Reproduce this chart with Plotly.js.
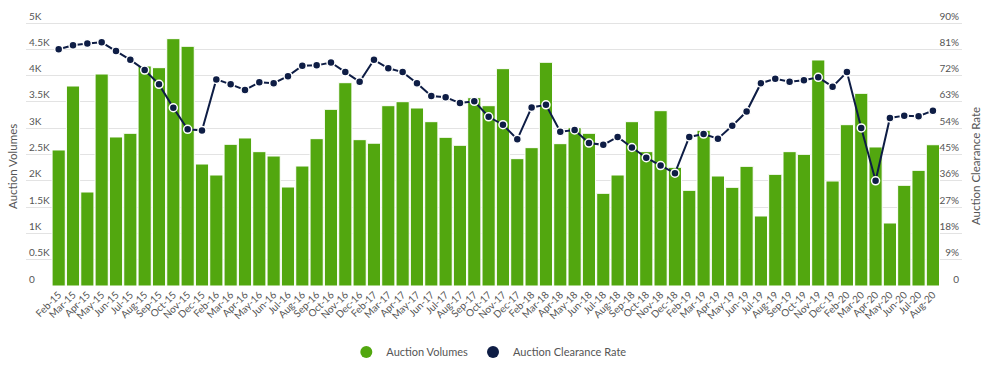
<!DOCTYPE html>
<html>
<head>
<meta charset="utf-8">
<script src="https://cdn.plot.ly/plotly-3.0.1.min.js"></script>
<style>
  html, body { margin: 0; padding: 0; background: #fff; }
  #chart { width: 989px; height: 368px; }
</style>
</head>
<body>
<div id="chart"></div>
<script>
const months = [
  "Feb-15","Mar-15","Apr-15","May-15","Jun-15","Jul-15","Aug-15","Sep-15","Oct-15","Nov-15","Dec-15",
  "Feb-16","Mar-16","Apr-16","May-16","Jun-16","Jul-16","Aug-16","Sep-16","Oct-16","Nov-16","Dec-16",
  "Feb-17","Mar-17","Apr-17","May-17","Jun-17","Jul-17","Aug-17","Sep-17","Oct-17","Nov-17","Dec-17",
  "Feb-18","Mar-18","Apr-18","May-18","Jun-18","Jul-18","Aug-18","Sep-18","Oct-18","Nov-18","Dec-18",
  "Feb-19","Mar-19","Apr-19","May-19","Jun-19","Jul-19","Aug-19","Sep-19","Oct-19","Nov-19","Dec-19",
  "Feb-20","Mar-20","Apr-20","May-20","Jun-20","Jul-20","Aug-20"
];

const auctionVolumes = [
  2586, 3802, 1787, 4030, 2833, 2903, 4183, 4151, 4702, 4557, 2319,
  2110, 2694, 2814, 2554, 2471, 1882, 2281, 2801, 3359, 3865, 2782,
  2715, 3428, 3504, 3384, 3124, 2827, 2675, 3580, 3428, 4132, 2421,
  2630, 4253, 2706, 3010, 2903, 1762, 2110, 3124, 2554, 3333, 2256,
  1819, 2960, 2091, 1876, 2275, 1331, 2123, 2554, 2503, 4297, 1996,
  3067, 3663, 2643, 1198, 1914, 2199, 2686
];

const clearanceRate = [
  81.0, 82.4, 83.0, 83.4, 80.4, 77.4, 73.9, 69.0, 61.0, 53.6, 53.2,
  70.7, 69.0, 67.1, 69.7, 69.4, 71.8, 75.4, 75.5, 76.5, 73.2, 69.9,
  77.4, 74.5, 73.2, 69.4, 65.0, 64.6, 62.6, 63.2, 57.9, 55.2, 50.2,
  61.1, 62.0, 52.8, 53.4, 48.9, 48.3, 51.0, 47.4, 43.9, 41.2, 38.6,
  51.0, 52.0, 50.4, 54.8, 59.7, 69.4, 70.9, 69.9, 70.4, 71.4, 68.2,
  73.2, 54.1, 36.0, 57.5, 58.3, 58.1, 60.0
];

const volumeTickVals = [0, 500, 1000, 1500, 2000, 2500, 3000, 3500, 4000, 4500, 5000];
const volumeTickText = ["0", "0.5K", "1K", "1.5K", "2K", "2.5K", "3K", "3.5K", "4K", "4.5K", "5K"];
const rateTickVals = [0, 9, 18, 27, 36, 45, 54, 63, 72, 81, 90];
const rateTickText = ["0", "9%", "18%", "27%", "36%", "45%", "54%", "63%", "72%", "81%", "90%"];

const GREEN = "#52a70f";
const NAVY = "#0e1d45";
const FONT = "Lato, 'Open Sans', sans-serif";

// plot area: x 26..962 px, y 5..286 px; gridline 5K / 90% sits at y=23
const TOP_PAD = 281 / 263;

const traces = [
  {
    type: "bar",
    name: "Auction Volumes",
    x: months,
    y: auctionVolumes,
    marker: { color: GREEN, line: { color: "#ffffff", width: 1 } },
    showlegend: false,
    yaxis: "y"
  },
  {
    type: "scatter",
    mode: "lines+markers",
    name: "Auction Clearance Rate",
    x: months,
    y: clearanceRate,
    line: { color: NAVY, width: 2 },
    marker: { color: NAVY, size: 8, line: { color: "#ffffff", width: 1.5 } },
    showlegend: false,
    yaxis: "y2"
  },
  {
    type: "scatter", mode: "markers", name: "Auction Volumes",
    x: [null], y: [null],
    marker: { color: GREEN, size: 12 }, showlegend: true, yaxis: "y"
  },
  {
    type: "scatter", mode: "markers", name: "Auction Clearance Rate",
    x: [null], y: [null],
    marker: { color: NAVY, size: 12 }, showlegend: true, yaxis: "y"
  }
];

const layout = {
  width: 989,
  height: 368,
  margin: { l: 26, r: 27, t: 5, b: 82, pad: 0, autoexpand: false },
  paper_bgcolor: "#ffffff",
  plot_bgcolor: "#ffffff",
  font: { family: FONT, color: "#555555", size: 10 },
  bargap: 0.08,
  showlegend: true,
  legend: {
    orientation: "h",
    x: 0.495, xanchor: "center",
    y: -0.235, yanchor: "middle",
    font: { family: FONT, size: 11, color: "#555555" },
    itemwidth: 30
  },
  xaxis: {
    type: "category",
    range: [-2.28, 63.03],
    automargin: false,
    tickangle: -45,
    tickfont: { family: FONT, size: 10, color: "#555555" },
    showgrid: false,
    zeroline: false,
    showline: false,
    ticks: "",
    fixedrange: true
  },
  yaxis: {
    range: [0, 5000 * TOP_PAD],
    automargin: false,
    tickvals: volumeTickVals,
    ticktext: volumeTickText,
    ticklabelposition: "inside top",
    tickfont: { family: FONT, size: 10, color: "#555555" },
    showgrid: true,
    gridcolor: "#e3e3e3",
    gridwidth: 1,
    zeroline: false,
    showline: false,
    ticks: ""
  },
  yaxis2: {
    overlaying: "y",
    side: "right",
    range: [0, 90 * TOP_PAD],
    automargin: false,
    tickvals: rateTickVals,
    ticktext: rateTickText,
    ticklabelposition: "inside top",
    tickfont: { family: FONT, size: 10, color: "#555555" },
    showgrid: false,
    zeroline: false,
    showline: false,
    ticks: ""
  },
  annotations: [
    {
      text: "Auction Volumes",
      xref: "paper", yref: "paper",
      x: -0.015, y: 0.427,
      xanchor: "center", yanchor: "middle",
      textangle: -90, showarrow: false,
      font: { family: FONT, size: 11.5, color: "#555555" }
    },
    {
      text: "Auction Clearance Rate",
      xref: "paper", yref: "paper",
      x: 1.014, y: 0.427,
      xanchor: "center", yanchor: "middle",
      textangle: -90, showarrow: false,
      font: { family: FONT, size: 11.5, color: "#555555" }
    }
  ]
};

Plotly.newPlot("chart", traces, layout, { displayModeBar: false, staticPlot: true });
</script>
</body>
</html>
